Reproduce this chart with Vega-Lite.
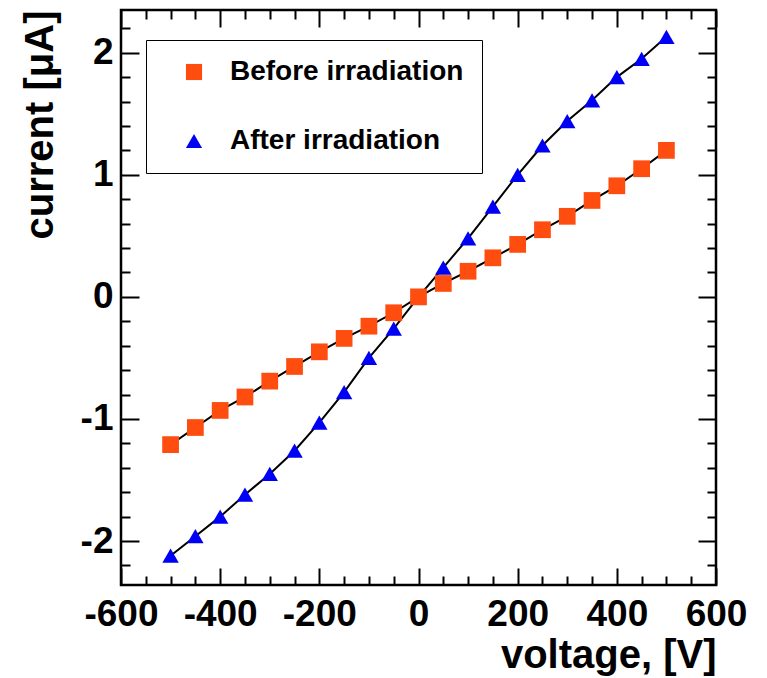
{
  "$schema": "https://vega.github.io/schema/vega-lite/v6.json",
  "autosize": {"type": "none"},
  "padding": {"left": 121, "top": 10, "right": 51, "bottom": 93},
  "width": 595,
  "height": 575,
  "background": "white",
  "config": {
    "view": {"stroke": "black", "strokeWidth": 2.5},
    "axis": {
      "labelFont": "Liberation Sans", "labelFontWeight": "bold", "labelFontSize": 37, "labelColor": "black",
      "titleFont": "Liberation Sans", "titleFontWeight": "bold", "titleFontSize": 40, "titleColor": "black",
      "tickColor": "black", "tickWidth": 2, "domain": false, "grid": false, "labelOverlap": false, "labelFlush": false,
      "labelExpr": "datum.value < 0 ? '-' + abs(datum.value) : '' + datum.value"
    }
  },
  "data": {"values": [
    {"V": -500, "I": -1.21, "series": "Before irradiation"},
    {"V": -450, "I": -1.07, "series": "Before irradiation"},
    {"V": -400, "I": -0.93, "series": "Before irradiation"},
    {"V": -350, "I": -0.82, "series": "Before irradiation"},
    {"V": -300, "I": -0.69, "series": "Before irradiation"},
    {"V": -250, "I": -0.57, "series": "Before irradiation"},
    {"V": -200, "I": -0.45, "series": "Before irradiation"},
    {"V": -150, "I": -0.34, "series": "Before irradiation"},
    {"V": -100, "I": -0.24, "series": "Before irradiation"},
    {"V": -50, "I": -0.13, "series": "Before irradiation"},
    {"V": 0, "I": 0.0, "series": "Before irradiation"},
    {"V": 50, "I": 0.11, "series": "Before irradiation"},
    {"V": 100, "I": 0.21, "series": "Before irradiation"},
    {"V": 150, "I": 0.32, "series": "Before irradiation"},
    {"V": 200, "I": 0.43, "series": "Before irradiation"},
    {"V": 250, "I": 0.55, "series": "Before irradiation"},
    {"V": 300, "I": 0.66, "series": "Before irradiation"},
    {"V": 350, "I": 0.79, "series": "Before irradiation"},
    {"V": 400, "I": 0.91, "series": "Before irradiation"},
    {"V": 450, "I": 1.05, "series": "Before irradiation"},
    {"V": 500, "I": 1.2, "series": "Before irradiation"},
    {"V": -500, "I": -2.12, "series": "After irradiation"},
    {"V": -450, "I": -1.96, "series": "After irradiation"},
    {"V": -400, "I": -1.8, "series": "After irradiation"},
    {"V": -350, "I": -1.62, "series": "After irradiation"},
    {"V": -300, "I": -1.45, "series": "After irradiation"},
    {"V": -250, "I": -1.26, "series": "After irradiation"},
    {"V": -200, "I": -1.03, "series": "After irradiation"},
    {"V": -150, "I": -0.78, "series": "After irradiation"},
    {"V": -100, "I": -0.5, "series": "After irradiation"},
    {"V": -50, "I": -0.26, "series": "After irradiation"},
    {"V": 0, "I": 0.0, "series": "After irradiation"},
    {"V": 50, "I": 0.24, "series": "After irradiation"},
    {"V": 100, "I": 0.48, "series": "After irradiation"},
    {"V": 150, "I": 0.74, "series": "After irradiation"},
    {"V": 200, "I": 1.0, "series": "After irradiation"},
    {"V": 250, "I": 1.24, "series": "After irradiation"},
    {"V": 300, "I": 1.44, "series": "After irradiation"},
    {"V": 350, "I": 1.61, "series": "After irradiation"},
    {"V": 400, "I": 1.8, "series": "After irradiation"},
    {"V": 450, "I": 1.95, "series": "After irradiation"},
    {"V": 500, "I": 2.13, "series": "After irradiation"}
  ]},
  "resolve": {"axis": {"x": "independent", "y": "independent"}},
  "layer": [
    {
      "transform": [{"filter": "datum.series === 'Before irradiation'"}],
      "mark": {"type": "line", "color": "black", "strokeWidth": 2},
      "encoding": {
        "x": {"field": "V", "type": "quantitative", "scale": {"domain": [-600, 600], "nice": false},
          "axis": {"orient": "bottom", "values": [-600, -400, -200, 0, 200, 400, 600], "tickSize": -17, "labelPadding": 28,
            "title": "voltage, [V]", "titleAnchor": "end", "titlePadding": 3}},
        "y": {"field": "I", "type": "quantitative", "scale": {"domain": [-2.36, 2.35], "nice": false, "zero": false},
          "axis": {"orient": "left", "values": [-2, -1, 0, 1, 2], "tickSize": -18, "labelPadding": 26,
            "title": "current [μA]", "titleAnchor": "end", "titlePadding": 20}}
      }
    },
    {
      "transform": [{"filter": "datum.series === 'After irradiation'"}],
      "mark": {"type": "line", "color": "black", "strokeWidth": 2},
      "encoding": {
        "x": {"field": "V", "type": "quantitative",
          "axis": {"orient": "bottom", "values": [-550, -500, -450, -350, -300, -250, -150, -100, -50, 50, 100, 150, 250, 300, 350, 450, 500, 550], "tickSize": -9, "labels": false, "title": null}},
        "y": {"field": "I", "type": "quantitative",
          "axis": {"orient": "left", "values": [-2.2, -1.8, -1.6, -1.4, -1.2, -0.8, -0.6, -0.4, -0.2, 0.2, 0.4, 0.6, 0.8, 1.2, 1.4, 1.6, 1.8, 2.2], "tickSize": -9, "labels": false, "title": null}}
      }
    },
    {
      "transform": [{"filter": "datum.series === 'After irradiation'"}],
      "mark": {"type": "point", "filled": true, "opacity": 1, "size": 270},
      "encoding": {
        "x": {"field": "V", "type": "quantitative",
          "axis": {"orient": "top", "values": [-600, -400, -200, 0, 200, 400, 600], "tickSize": -17, "labels": false, "title": null}},
        "y": {"field": "I", "type": "quantitative",
          "axis": {"orient": "right", "values": [-2, -1, 0, 1, 2], "tickSize": -18, "labels": false, "title": null}},
        "color": {"field": "series", "type": "nominal",
          "scale": {"domain": ["Before irradiation", "After irradiation"], "range": ["#FF4D10", "#0000F5"]},
          "legend": {"orient": "none", "legendX": 25, "legendY": 30, "title": null, "direction": "vertical",
            "strokeColor": "black", "fillColor": "white", "padding": 18, "symbolOffset": 16,
            "labelFont": "Liberation Sans", "labelFontWeight": "bold", "labelFontSize": 28, "labelColor": "black", "labelLimit": 0,
            "labelOffset": 22, "rowPadding": 41, "symbolSize": 260, "symbolStrokeWidth": 0}},
        "shape": {"field": "series", "type": "nominal",
          "scale": {"domain": ["Before irradiation", "After irradiation"], "range": ["square", "triangle-up"]},
          "legend": {"orient": "none", "legendX": 25, "legendY": 30, "title": null, "direction": "vertical",
            "strokeColor": "black", "fillColor": "white", "padding": 18, "symbolOffset": 16,
            "labelFont": "Liberation Sans", "labelFontWeight": "bold", "labelFontSize": 28, "labelColor": "black", "labelLimit": 0,
            "labelOffset": 22, "rowPadding": 41, "symbolSize": 260, "symbolStrokeWidth": 0}}
      }
    },
    {
      "transform": [{"filter": "datum.series === 'Before irradiation'"}],
      "mark": {"type": "point", "filled": true, "opacity": 1, "size": 280},
      "encoding": {
        "x": {"field": "V", "type": "quantitative",
          "axis": {"orient": "top", "values": [-550, -500, -450, -350, -300, -250, -150, -100, -50, 50, 100, 150, 250, 300, 350, 450, 500, 550], "tickSize": -9, "labels": false, "title": null}},
        "y": {"field": "I", "type": "quantitative",
          "axis": {"orient": "right", "values": [-2.2, -1.8, -1.6, -1.4, -1.2, -0.8, -0.6, -0.4, -0.2, 0.2, 0.4, 0.6, 0.8, 1.2, 1.4, 1.6, 1.8, 2.2], "tickSize": -9, "labels": false, "title": null}},
        "color": {"field": "series", "type": "nominal"},
        "shape": {"field": "series", "type": "nominal"}
      }
    }
  ]
}
